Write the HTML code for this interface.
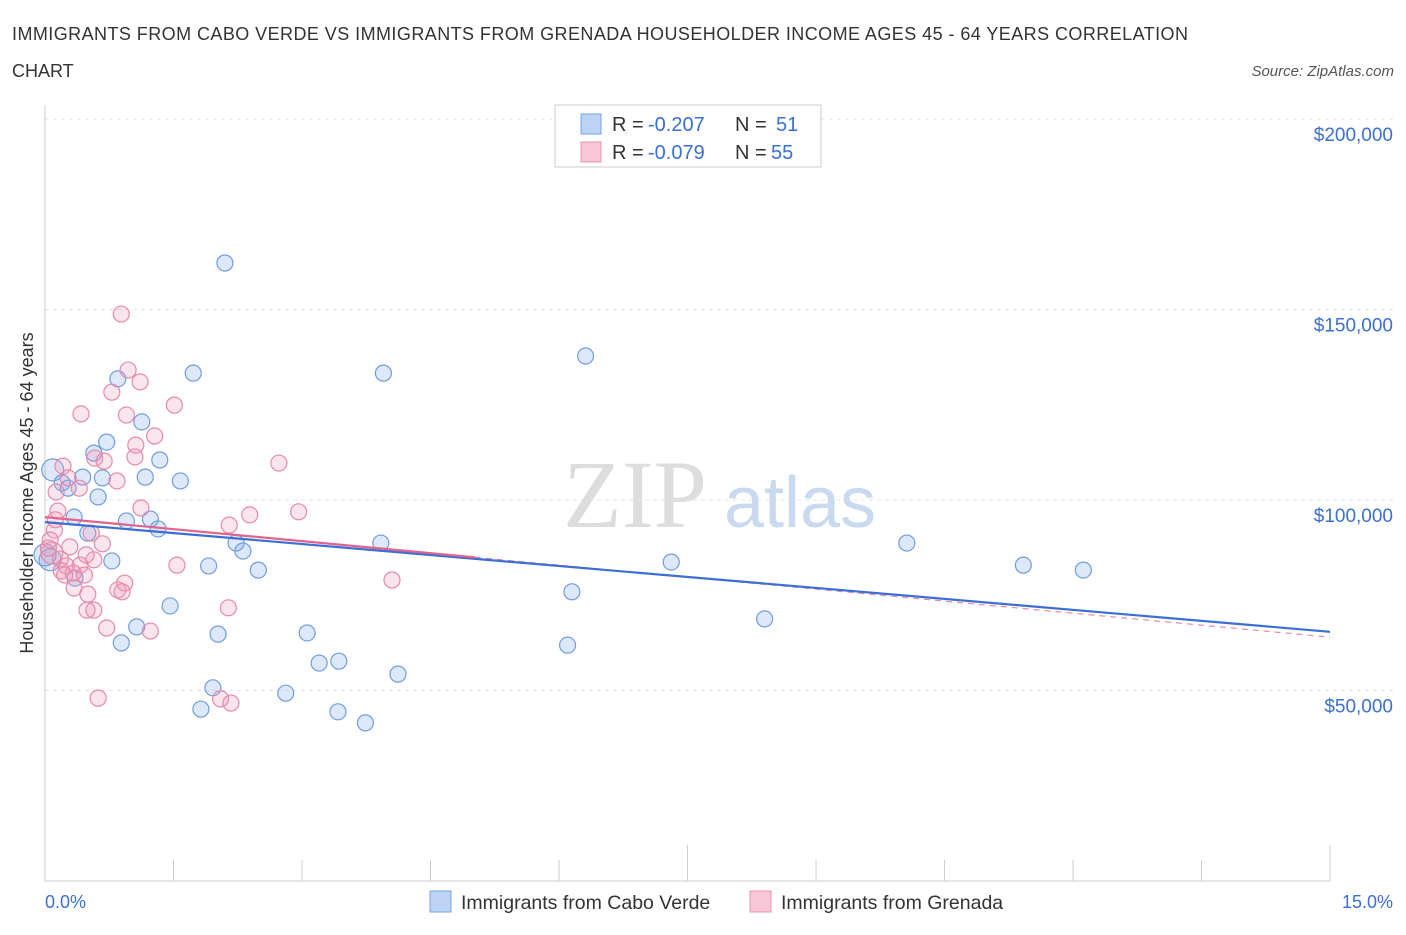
<!DOCTYPE html>
<html><head><meta charset="utf-8"><style>
body{margin:0;background:#fff;font-family:"Liberation Sans",sans-serif;}
</style></head><body>
<svg width="1406" height="930" xmlns="http://www.w3.org/2000/svg" font-family="Liberation Sans, sans-serif">
<text x="12" y="40" font-size="18" fill="#333" textLength="1176">IMMIGRANTS FROM CABO VERDE VS IMMIGRANTS FROM GRENADA HOUSEHOLDER INCOME AGES 45 - 64 YEARS CORRELATION</text>
<text x="12" y="77" font-size="18" fill="#333">CHART</text>
<text x="1394" y="76" font-size="15" fill="#555" font-style="italic" text-anchor="end">Source: ZipAtlas.com</text>
<g id="grid"></g>
<text x="635" y="527" font-size="96" fill="#ddd" font-family="Liberation Serif, serif" text-anchor="middle">ZIP</text>
<text x="800" y="527" font-size="72" fill="#c9d9f0" text-anchor="middle">atlas</text>
<line x1="45" y1="105" x2="45" y2="881" stroke="#ccc"/>
<line x1="45" y1="881" x2="1330" y2="881" stroke="#ccc"/>
<g id="marks"></g>
<text transform="translate(33,493) rotate(-90)" font-size="18" fill="#333" text-anchor="middle">Householder Income Ages 45 - 64 years</text>
<text x="45" y="908" font-size="18" fill="#3b6fd4">0.0%</text>
<text x="1393" y="908" font-size="18" fill="#3b6fd4" text-anchor="end">15.0%</text>
<g font-size="20">
<rect x="555" y="105" width="266" height="62" fill="#fff" stroke="#ccc"/>
<rect x="581" y="114" width="20" height="20" fill="#bcd3f5" stroke="#7aa3e0"/>
<text x="612" y="131" fill="#333">R =</text><text x="648" y="131" fill="#3b6fd4">-0.207</text>
<text x="735" y="131" fill="#333">N =</text><text x="776" y="131" fill="#3b6fd4">51</text>
<rect x="581" y="142" width="20" height="20" fill="#f8c6d6" stroke="#e896b0"/>
<text x="612" y="159" fill="#333">R =</text><text x="648" y="159" fill="#3b6fd4">-0.079</text>
<text x="735" y="159" fill="#333">N =</text><text x="771" y="159" fill="#3b6fd4">55</text>
</g>
<g>
<rect x="430" y="891" width="21" height="21" fill="#bcd3f5" stroke="#7aa3e0"/>
<text x="461" y="909" font-size="19.5" fill="#333">Immigrants from Cabo Verde</text>
<rect x="750" y="891" width="21" height="21" fill="#f8c6d6" stroke="#e896b0"/>
<text x="781" y="909" font-size="19.5" fill="#333">Immigrants from Grenada</text>
</g>
</svg>
<script>
const yTicks=[50000,100000,150000,200000];
const yTickLabels=["$50,000","$100,000","$150,000","$200,000"];
const xTicks=[0,1.5,3,4.5,6,7.5,9,10.5,12,13.5,15];
const blueX=[2.10,6.31,1.73,3.95,0.85,1.13,0.72,0.57,1.34,1.17,1.58,0.09,0.20,0.27,0.44,0.67,0.62,0.34,0.95,1.23,1.32,0.50,2.23,2.31,3.92,10.06,0.78,1.91,2.49,7.31,11.42,12.12,0.06,6.15,1.46,8.40,1.07,2.02,3.06,0.89,6.10,3.20,3.43,4.12,1.96,2.81,1.82,3.42,3.74,0.0,0.35];
const blueY=[162.2,137.8,133.3,133.3,131.8,120.5,115.2,112.3,110.5,106.0,105.0,107.9,104.5,103.1,106.0,105.8,100.8,95.5,94.5,95.0,92.4,91.3,88.7,86.6,88.7,88.7,84.0,82.7,81.6,83.7,82.9,81.6,84.3,75.9,72.2,68.8,66.7,64.8,65.1,62.5,61.9,57.2,57.7,54.3,50.7,49.3,45.1,44.4,41.5,85.6,79.5];
const pinkX=[0.89,0.97,1.11,0.78,1.51,0.42,0.95,1.28,1.06,1.05,0.58,0.69,2.73,0.21,0.27,0.84,0.40,0.13,1.12,0.15,2.96,2.39,2.15,0.54,0.11,0.67,0.29,0.08,0.18,0.57,1.54,0.25,0.41,0.19,0.33,0.46,4.05,0.93,0.85,0.34,0.90,0.50,0.57,0.49,2.14,0.72,1.23,0.62,2.05,2.17,0.06,0.12,0.23,0.04,0.48];
const pinkY=[148.8,134.1,131.0,128.3,124.9,122.6,122.3,116.8,114.4,111.3,111.0,110.2,109.7,108.9,105.8,105.0,103.1,102.1,97.9,97.1,96.9,96.1,93.4,91.3,92.1,88.5,87.7,86.1,84.5,84.3,82.9,82.7,82.9,81.4,80.8,80.3,79.0,78.2,76.4,76.9,75.9,75.3,71.1,71.1,71.7,66.4,65.6,48.0,47.8,46.7,89.5,94.8,80.3,87.4,85.6];
const blueTrend=[94.2,65.4];
const pinkTrend=[95.5,64.0];
const pinkSolidEnd=5.02;
const X=p=>45+p*85.67;
const Y=v=>881-v*3.81;
const NS="http://www.w3.org/2000/svg";
const grid=document.getElementById('grid'),marks=document.getElementById('marks');
function mk(tag,attrs,parent){const e=document.createElementNS(NS,tag);for(const k in attrs)e.setAttribute(k,attrs[k]);parent.appendChild(e);return e;}
yTicks.forEach((t,i)=>{
 const l=mk('line',{x1:45,x2:1394,y1:Y(t/1000),y2:Y(t/1000),stroke:'#e3e3e3','stroke-dasharray':'4,4'},grid);
 
 
 const tx=mk('text',{x:1393,y:Y(t/1000)+22,'font-size':19,fill:'#3b6fd4','text-anchor':'end'},grid);
 tx.textContent=yTickLabels[i];
 
 
});
xTicks.forEach(t=>{
 const l=mk('line',{x1:X(t),x2:X(t),y1:881,y2:(t===0||t===15||t===7.5)?845:860,stroke:'#ccc'},grid);
 
 
});
function dot(x,y,fill,stroke,name){
 const big=x<0.15&&(y>84&&y<87||y>106&&y<109);
 const c=mk('circle',{cx:X(x),cy:Y(y),r:big?11:8,fill:fill,stroke:stroke,'stroke-width':1.2},marks);
 
 
}
blueX.forEach((x,i)=>dot(x,blueY[i],'rgba(120,165,235,0.25)','#6f9de0','cabo-verde-point'));
pinkX.forEach((x,i)=>dot(x,pinkY[i],'rgba(240,150,180,0.25)','#e68aa8','grenada-point'));
const pd=mk('line',{x1:X(pinkSolidEnd),y1:Y(pinkTrend[0]+(pinkTrend[1]-pinkTrend[0])*pinkSolidEnd/15),x2:X(15),y2:Y(pinkTrend[1]),stroke:'#e68aa8','stroke-width':1.2,'stroke-dasharray':'6,5'},marks);


const bl=mk('line',{x1:X(0),y1:Y(blueTrend[0]),x2:X(15),y2:Y(blueTrend[1]),stroke:'#3b6fd4','stroke-width':2.2},marks);


const pl=mk('line',{x1:X(0),y1:Y(pinkTrend[0]),x2:X(pinkSolidEnd),y2:Y(pinkTrend[0]+(pinkTrend[1]-pinkTrend[0])*pinkSolidEnd/15),stroke:'#e0638c','stroke-width':2.2},marks);


</script>
</body></html>
